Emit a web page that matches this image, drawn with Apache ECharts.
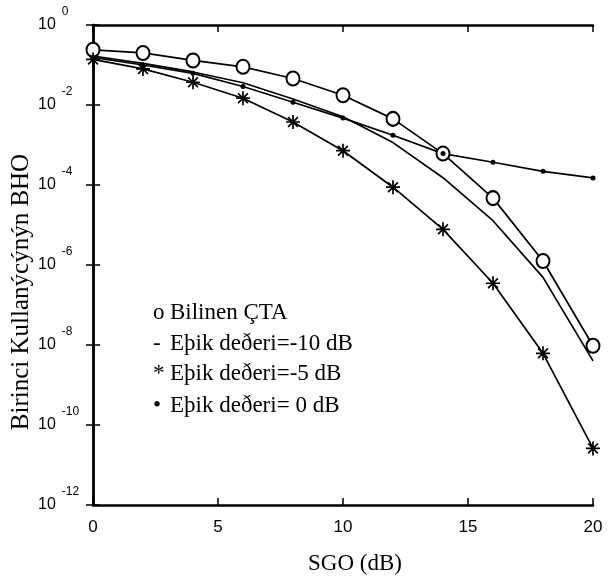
<!DOCTYPE html>
<html><head><meta charset="utf-8">
<script src="https://cdn.jsdelivr.net/npm/echarts@6/dist/echarts.min.js"></script>
<style>html,body{margin:0;padding:0;background:#fff}#c{width:614px;height:579px}</style>
</head><body><div id="c"></div>
<script>
const snr = [0, 2, 4, 6, 8, 10, 12, 14, 16, 18, 20];
const bilinenCTA = [0.24, 0.20, 0.13, 0.09, 0.046, 0.0175, 4.5e-3, 6.1e-4, 4.7e-5, 1.26e-6, 9.6e-9];
const esikM10 = [0.168, 0.11, 0.067, 0.036, 0.0141, 5.1e-3, 1.15e-3, 1.52e-4, 1.28e-5, 4.9e-7, 4e-9];
const esikM5 = [0.138, 0.08, 0.037, 0.0148, 3.76e-3, 7.2e-4, 8.8e-5, 7.8e-6, 3.5e-7, 6.2e-9, 2.6e-11];
const esik0 = [0.155, 0.10, 0.062, 0.029, 0.0117, 4.7e-3, 1.75e-3, 6.1e-4, 3.7e-4, 2.2e-4, 1.5e-4];
const xMin = 0, xMax = 20, xStep = 5;
const yMin = 1e-12, yMax = 1;
const legendMarks = ['o', '-', '*', '\u2022'];
const legendLabels = ['Bilinen ÇTA', 'Eþik deðeri=-10 dB', 'Eþik deðeri=-5 dB', 'Eþik deðeri= 0 dB'];
const xTitle = 'SGO (dB)';
const yTitle = 'Birinci Kullanýcýnýn BHO';

const chart = echarts.init(document.getElementById('c'));
const pts = arr => snr.map((x, i) => [x, arr[i]]);
const starPath = 'path://M10,0L10,20M0,10L20,10M3,3L17,17M3,17L17,3';
const sans = 'Liberation Sans, Arial, sans-serif';
const serif = 'Liberation Serif, Times New Roman, serif';
const axisLine = { show: true, lineStyle: { color: '#000', width: 2.5 } };
const tick = { show: true, inside: true, length: 7, lineStyle: { color: '#000', width: 1.5 } };

function lineSeries(name, arr, symbol, size, extra) {
  return Object.assign({
    name, type: 'line', data: pts(arr), symbol, symbolSize: size,
    lineStyle: { color: '#000', width: 1.7 },
    itemStyle: { color: '#000', borderColor: '#000', borderWidth: 1.7 },
    animation: false, z: 3
  }, extra || {});
}

const legendY = [314, 345, 375, 407];
const graphics = [];
legendMarks.forEach((m, i) => {
  graphics.push({ type: 'text', left: 153, top: legendY[i] - 13,
    style: { text: m, font: '23px ' + serif, fill: '#000' } });
  graphics.push({ type: 'text', left: 170, top: legendY[i] - 13,
    style: { text: legendLabels[i], font: '23px ' + serif, fill: '#000' } });
});
graphics.push({ type: 'text', x: 355, y: 564,
  style: { text: xTitle, font: '23px ' + serif, fill: '#000', textAlign: 'center', textVerticalAlign: 'middle' } });
graphics.push({ type: 'text', x: 21, y: 292, rotation: Math.PI / 2,
  style: { text: yTitle, font: '25px ' + serif, fill: '#000', textAlign: 'center', textVerticalAlign: 'middle' } });

chart.setOption({
  animation: false,
  backgroundColor: '#fff',
  grid: { left: 93, right: 21, top: 25, bottom: 74, containLabel: false },
  xAxis: [{
    type: 'value', min: xMin, max: xMax, interval: xStep,
    axisLine, axisTick: tick, splitLine: { show: false },
    axisLabel: { color: '#000', fontFamily: sans, fontSize: 17, margin: 14 }
  }, {
    type: 'value', position: 'top', min: xMin, max: xMax, interval: xStep,
    axisLine, axisTick: tick, splitLine: { show: false }, axisLabel: { show: false }
  }],
  yAxis: [{
    type: 'log', logBase: 10, min: yMin, max: yMax, interval: 2, splitNumber: 6,
    axisLine, axisTick: tick, splitLine: { show: false },
    axisLabel: {
      showMinLabel: true, showMaxLabel: true, align: 'left', margin: 55,
      formatter: v => '{b|10}{e|' + Math.round(Math.log10(v)) + '}',
      rich: {
        b: { fontFamily: sans, fontSize: 16, color: '#000' },
        e: { fontFamily: sans, fontSize: 12, color: '#000', padding: [0, 0, 27, 6] }
      }
    }
  }, {
    type: 'log', logBase: 10, position: 'right', min: yMin, max: yMax, interval: 2, splitNumber: 6,
    axisLine, axisTick: tick, splitLine: { show: false }, axisLabel: { show: false }
  }],
  series: [
    lineSeries('Bilinen ÇTA', bilinenCTA, 'emptyCircle', [13, 14]),
    lineSeries('Eşik -10', esikM10, 'none', 0),
    lineSeries('Eşik -5', esikM5, starPath, 14),
    lineSeries('Eşik 0', esik0, 'circle', 5, { itemStyle: { color: '#000', borderWidth: 0 } })
  ],
  graphic: graphics
});
</script></body></html>
